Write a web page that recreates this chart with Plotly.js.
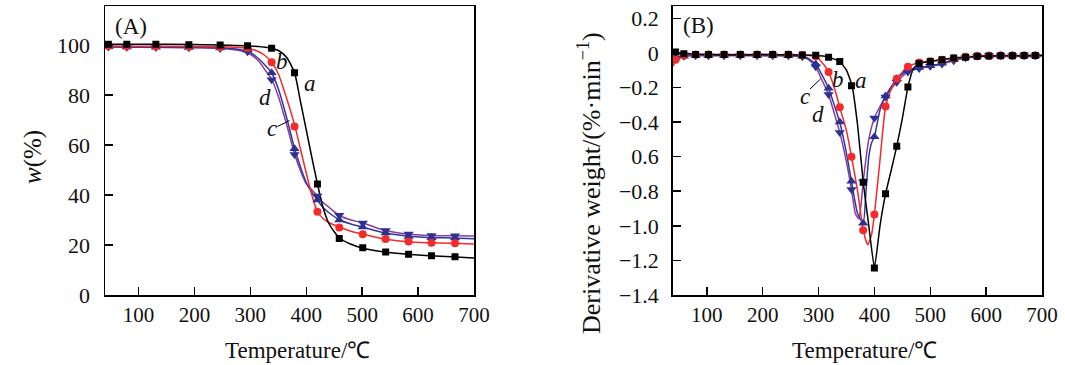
<!DOCTYPE html>
<html><head><meta charset="utf-8">
<script src="https://cdn.plot.ly/plotly-3.0.1.min.js"></script>
<style>html,body{margin:0;padding:0;background:#fff}#chart{width:1065px;height:365px}</style>
</head><body><div id="chart"></div>
<script>
// ---------- Panel A: TG curves, w(%) vs temperature ----------
const tempMarkA = [46, 79, 131, 190, 246, 295, 338, 379, 420, 459, 501, 542, 583, 624, 666];
const aMarkA = [100.3, 100.3, 100.3, 100.1, 100, 99.7, 98.7, 88.9, 44.4, 22.6, 18.9, 17.2, 16.3, 15.7, 15.3];
const bMarkA = [99.6, 99.5, 99.5, 99.4, 99.2, 98.8, 93.1, 67.4, 33.3, 27, 24.3, 22.4, 21.4, 20.9, 20.7];
const cMarkA = [99.3, 99.2, 99.1, 99, 98.8, 98, 88.9, 58.5, 38, 30, 27.2, 24.8, 23.4, 22.9, 22.8];
const dMarkA = [99.2, 99.1, 99, 98.9, 98.6, 97.3, 86.1, 56.2, 39.6, 31.9, 28.8, 25.8, 24.4, 23.8, 23.7];

const aTempLineA = [40, 100, 200, 300, 330, 350, 365, 379, 390, 400, 410, 420, 430, 440, 450, 460, 480, 500, 540, 580, 620, 660, 700];
const aLineA = [100.3, 100.3, 100.2, 99.6, 99, 97.8, 95, 88.9, 77, 66, 55, 44.4, 35, 28.8, 25.3, 22.7, 20.3, 18.8, 17.2, 16.3, 15.7, 15.3, 14.8];
const bTempLineA = [40, 100, 200, 260, 290, 310, 325, 338, 350, 360, 370, 380, 390, 400, 410, 420, 430, 440, 460, 480, 500, 540, 580, 620, 660, 700];
const bLineA = [99.6, 99.5, 99.4, 99.2, 98.8, 97.8, 96, 93.1, 88.5, 82, 75, 67.3, 58, 48.7, 40, 33.3, 30.6, 29, 27.1, 25.5, 24.4, 22.4, 21.3, 20.9, 20.7, 20.4];
const cdTempLineA = [40, 100, 200, 250, 280, 300, 315, 328, 338, 350, 360, 370, 379, 390, 400, 410, 420, 430, 440, 460, 480, 500, 540, 580, 620, 660, 700];
const cLineA = [99.3, 99.2, 99, 98.8, 98.2, 97, 94.5, 91.5, 88.9, 82.5, 75, 66.5, 58.7, 51, 45, 41, 38, 35, 33, 30, 28.4, 27.2, 24.9, 23.6, 23, 22.8, 22.5];
const dLineA = [99.2, 99.1, 98.9, 98.6, 97.8, 96.3, 93.5, 89.5, 86.3, 79.5, 72, 64, 56.4, 49.5, 44.5, 42, 39.7, 37, 35.2, 31.7, 30, 28.9, 25.9, 24.4, 23.8, 23.7, 23.6];

// ---------- Panel B: DTG curves ----------
const tempMarkB = [44, 59, 80, 103, 131, 160, 190, 218, 246, 271, 295, 318, 338, 359, 380, 400, 420, 440, 460, 480, 500, 521, 542, 563, 584, 605, 626, 647, 668, 688];
const aMarkB = [0.005, -0.005, -0.01, -0.01, -0.01, -0.01, -0.01, -0.01, -0.01, -0.012, -0.014, -0.025, -0.05, -0.19, -0.748, -1.244, -0.815, -0.54, -0.198, -0.062, -0.05, -0.04, -0.03, -0.025, -0.02, -0.018, -0.017, -0.016, -0.015, -0.015];
const bMarkB = [-0.04, -0.015, -0.01, -0.01, -0.01, -0.01, -0.01, -0.01, -0.01, -0.012, -0.02, -0.11, -0.315, -0.6, -1.025, -0.935, -0.31, -0.15, -0.08, -0.055, -0.048, -0.04, -0.033, -0.023, -0.018, -0.016, -0.015, -0.015, -0.015, -0.015];
const cMarkB = [-0.03, -0.02, -0.015, -0.015, -0.015, -0.015, -0.015, -0.015, -0.016, -0.02, -0.065, -0.205, -0.4, -0.743, -0.985, -0.485, -0.25, -0.15, -0.1, -0.085, -0.075, -0.06, -0.04, -0.025, -0.018, -0.016, -0.015, -0.015, -0.015, -0.015];
const dMarkB = [-0.03, -0.02, -0.016, -0.016, -0.016, -0.016, -0.016, -0.016, -0.017, -0.022, -0.08, -0.24, -0.46, -0.79, -0.745, -0.377, -0.255, -0.17, -0.11, -0.09, -0.078, -0.065, -0.045, -0.028, -0.02, -0.017, -0.016, -0.016, -0.016, -0.016];

const aTempLineB = [40, 50, 100, 200, 270, 295, 318, 338, 350, 360, 370, 380, 390, 400, 410, 420, 430, 440, 450, 460, 470, 480, 500, 540, 600, 700];
const aLineB = [0.005, 0, -0.01, -0.01, -0.012, -0.014, -0.025, -0.05, -0.1, -0.19, -0.42, -0.748, -1.0, -1.244, -1.0, -0.815, -0.68, -0.54, -0.38, -0.198, -0.09, -0.062, -0.05, -0.03, -0.018, -0.015];
const bTempLineB = [40, 45, 55, 70, 100, 200, 260, 280, 295, 310, 318, 330, 338, 350, 359, 370, 380, 388, 395, 400, 410, 420, 430, 440, 460, 480, 500, 540, 600, 700];
const bLineB = [-0.077, -0.04, -0.015, -0.01, -0.01, -0.01, -0.012, -0.015, -0.02, -0.07, -0.11, -0.22, -0.315, -0.45, -0.6, -0.8, -1.025, -1.11, -1.05, -0.935, -0.62, -0.31, -0.21, -0.15, -0.08, -0.055, -0.048, -0.033, -0.018, -0.015];
const cTempLineB = [40, 45, 55, 70, 100, 200, 260, 280, 295, 305, 318, 330, 338, 350, 359, 370, 380, 385, 390, 395, 400, 410, 420, 440, 460, 480, 500, 521, 542, 563, 600, 700];
const cLineB = [-0.05, -0.03, -0.02, -0.015, -0.015, -0.015, -0.018, -0.03, -0.065, -0.12, -0.205, -0.32, -0.4, -0.58, -0.743, -0.93, -0.985, -0.8, -0.6, -0.52, -0.485, -0.33, -0.25, -0.15, -0.1, -0.085, -0.075, -0.06, -0.04, -0.025, -0.018, -0.015];
const dTempLineB = [40, 45, 55, 70, 100, 200, 260, 280, 295, 305, 318, 330, 338, 350, 359, 366, 372, 376, 380, 390, 400, 410, 420, 440, 460, 480, 500, 521, 542, 563, 600, 700];
const dLineB = [-0.05, -0.03, -0.02, -0.016, -0.016, -0.016, -0.018, -0.035, -0.08, -0.15, -0.24, -0.37, -0.46, -0.63, -0.79, -0.93, -0.96, -0.88, -0.745, -0.5, -0.377, -0.31, -0.255, -0.17, -0.11, -0.09, -0.078, -0.065, -0.045, -0.028, -0.02, -0.016];

const yTickValsA = [0, 20, 40, 60, 80, 100];
const yTickValsB = [0.2, 0, -0.2, -0.4, -0.6, -0.8, -1.0, -1.2, -1.4];
const yTickTextB = ['0.2', '0', '\u22120.2', '\u22120.4', '0.6', '\u22120.8', '\u22121.0', '\u22121.2', '\u22121.4'];
const xTickVals = [100, 200, 300, 400, 500, 600, 700];

// ---------- styles ----------
const FONT = 'Liberation Serif, Times New Roman, serif';
const colA = '#000000', colB = '#f52a2a', colC = '#3038a0', colD = '#8a3c9e', colMarkCD = '#2e3192';

function lineTrace(x, y, color, xa, ya, smooth) {
  return {x: x, y: y, mode: 'lines', type: 'scatter', xaxis: xa, yaxis: ya,
    line: {color: color, width: 1.5, shape: 'spline', smoothing: smooth}, hoverinfo: 'skip'};
}
function markTrace(x, y, color, symbol, size, xa, ya) {
  return {x: x, y: y, mode: 'markers', type: 'scatter', xaxis: xa, yaxis: ya,
    marker: {color: color, symbol: symbol, size: size, line: {width: 0}}};
}

const traces = [
  lineTrace(cdTempLineA, dLineA, colD, 'x', 'y', 0.8),
  lineTrace(cdTempLineA, cLineA, colC, 'x', 'y', 0.8),
  lineTrace(bTempLineA, bLineA, colB, 'x', 'y', 0.8),
  lineTrace(aTempLineA, aLineA, colA, 'x', 'y', 0.6),
  markTrace(tempMarkA, dMarkA, colMarkCD, 'triangle-down', 9, 'x', 'y'),
  markTrace(tempMarkA, cMarkA, colMarkCD, 'triangle-up', 9, 'x', 'y'),
  markTrace(tempMarkA, bMarkA, colB, 'circle', 8, 'x', 'y'),
  markTrace(tempMarkA, aMarkA, colA, 'square', 7, 'x', 'y'),

  lineTrace(dTempLineB, dLineB, colD, 'x2', 'y2', 0.5),
  lineTrace(cTempLineB, cLineB, colC, 'x2', 'y2', 0.5),
  lineTrace(bTempLineB, bLineB, colB, 'x2', 'y2', 0.5),
  lineTrace(aTempLineB, aLineB, colA, 'x2', 'y2', 0.4),
  markTrace(tempMarkB, dMarkB, colMarkCD, 'triangle-down', 9, 'x2', 'y2'),
  markTrace(tempMarkB, cMarkB, colMarkCD, 'triangle-up', 9, 'x2', 'y2'),
  markTrace(tempMarkB, bMarkB, colB, 'circle', 8, 'x2', 'y2'),
  markTrace(tempMarkB, aMarkB, colA, 'square', 7, 'x2', 'y2')
];

const W = 1065, H = 365;
const px = v => v / W, py = v => 1 - v / H;

const axisCommon = {
  showline: true, linecolor: '#000', linewidth: 1.5, mirror: true,
  ticks: 'inside', ticklen: 8, tickwidth: 1.5, tickcolor: '#000',
  showgrid: false, zeroline: false,
  tickfont: {family: FONT, size: 21, color: '#111'}
};

function ann(text, x, y, size, extra) {
  return Object.assign({text: text, x: px(x), y: py(y), xref: 'paper', yref: 'paper',
    showarrow: false, xanchor: 'center', yanchor: 'middle',
    font: {family: FONT, size: size, color: '#111'}}, extra || {});
}

const layout = {
  width: W, height: H,
  margin: {l: 0, r: 0, t: 0, b: 0},
  paper_bgcolor: '#fff', plot_bgcolor: '#fff',
  showlegend: false,
  xaxis: Object.assign({}, axisCommon, {domain: [px(105), px(474)], range: [40, 700], tickvals: xTickVals, anchor: 'y'}),
  yaxis: Object.assign({}, axisCommon, {domain: [py(295), py(6)], range: [0, 115.6], tickvals: yTickValsA, anchor: 'x', ticklabelstandoff: 9,
    tickfont: {family: FONT, size: 22, color: '#111'}}),
  xaxis2: Object.assign({}, axisCommon, {domain: [px(672.7), px(1042)], range: [39, 700], tickvals: xTickVals, anchor: 'y2'}),
  yaxis2: Object.assign({}, axisCommon, {domain: [py(295), py(6)], range: [-1.40, 0.271], tickvals: yTickValsB, ticktext: yTickTextB, anchor: 'x2', ticklabelstandoff: 8,
    tickfont: {family: FONT, size: 22, color: '#111'}}),
  annotations: [
    ann('Temperature/\u2103', 297, 350, 23),
    ann('Temperature/\u2103', 864, 350, 23),
    ann('<i>w</i>(%)', 33, 157, 25, {textangle: -90}),
    ann('Derivative weight/(%\u00b7min<sup>\u22121</sup>)', 589, 183, 26, {textangle: -90}),
    ann('(A)', 131, 26, 23),
    ann('(B)', 698, 25, 23),
    ann('<i>a</i>', 310, 83, 23),
    ann('<i>b</i>', 282, 62, 23),
    ann('<i>d</i>', 265, 97, 23),
    ann('<i>c</i>', 272, 128, 23),
    ann('<i>a</i>', 861, 81, 23),
    ann('<i>b</i>', 838, 79, 23),
    ann('<i>c</i>', 805, 96, 23),
    ann('<i>d</i>', 818, 115, 23)
  ],
  shapes: [
    {type: 'line', xref: 'paper', yref: 'paper', x0: px(277.5), y0: py(126.5), x1: px(289.5), y1: py(120.5), line: {color: '#000', width: 1}},
    {type: 'line', xref: 'paper', yref: 'paper', x0: px(810), x1: px(820.5), y0: py(89), y1: py(79), line: {color: '#000', width: 1}}
  ]
};

Plotly.newPlot('chart', traces, layout, {staticPlot: true, displayModeBar: false});
</script>
</body></html>
